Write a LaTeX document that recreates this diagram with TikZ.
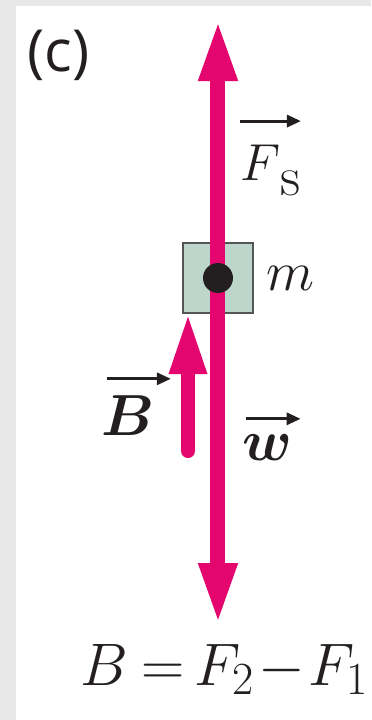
\RequirePackage{fix-cm}
\documentclass[tikz,border=0pt]{standalone}
\usepackage{amsmath,amssymb}
\usepackage{fontspec}
\newfontfamily\panelfont{Open Sans}
\usetikzlibrary{arrows.meta,positioning}
\definecolor{forcepink}{HTML}{E4066E}
\definecolor{blockgreen}{HTML}{BCD6CB}
\definecolor{blockedge}{HTML}{555555}
\definecolor{inkblack}{HTML}{231F20}
\definecolor{panelgray}{HTML}{E8E8E8}

\begin{document}
\begin{tikzpicture}[
x=0.5pt,y=-0.5pt,
force/.style={draw=forcepink,line width=7.5pt,
-{Triangle[length=31pt,width=17.5pt]}},
vecarr/.style={draw=inkblack,line width=1.5pt,
-{Triangle[length=7pt,width=6pt]}},
blockbox/.style={draw=blockedge,fill=blockgreen,line width=1pt,
minimum size=35pt,inner sep=0pt},
cmdot/.style={circle,fill=inkblack,minimum size=15pt,inner sep=0pt},
lbl/.style={inner sep=0pt,text=inkblack,anchor=base west}
]
\fill[panelgray] (0,0) rectangle (371,720);
\fill[white] (16,6) rectangle (371,720);
\useasboundingbox (0,0) rectangle (371,720);

\node[blockbox] (box) at (218,278) {};
\coordinate (FsTip) at (218,19);
\coordinate (wTip) at (218,625);
\coordinate (BTail) at (188,451);
\coordinate (BTip) at (188,312);

\draw[force] (box.center) -- (FsTip);
\draw[force] (box.center) -- (wTip);
\draw[force,line width=7pt,line cap=round,
-{Triangle[length=31pt,width=17pt]}] (BTail) -- (BTip);
\node[cmdot] (cm) at (box.center) {};

\node[lbl,font={\panelfont\fontsize{29}{34}\selectfont}] (panel) at (27,71) {(c)};
\node[lbl,font={\fontsize{26}{30}\selectfont}] (lblFs) at (240,180) {$F$\raisebox{-7.5pt}{\fontsize{28}{30}\selectfont s}};
\node[lbl,font={\fontsize{28}{32}\selectfont}] (lblm) at (266,290) {$m$};
\node[lbl,font={\fontsize{29}{34}\selectfont}] (lblB) at (101,435) {$\boldsymbol{B}$};
\node[lbl,font={\fontsize{29}{34}\selectfont}] (lblw) at (242,460) {$\boldsymbol{w}$};
\node[lbl,font={\fontsize{30}{34}\selectfont}] (law) at (80,685)
{$B\mskip4mu{=}\mskip3mu F_{\mbox{\fontsize{23}{24}\selectfont 2}}\mskip1mu{-}\mskip1mu F_{\mbox{\fontsize{23}{24}\selectfont 1}}$};

\draw[vecarr] ([yshift=11.5pt]lblFs.north west) -- ([yshift=11.5pt]lblFs.north east);
\draw[vecarr] ([xshift=3pt,yshift=8pt]lblB.north west) -- ([xshift=8pt,yshift=8pt]lblB.north east);
\draw[vecarr] ([xshift=2pt,yshift=7.5pt]lblw.north west) -- ([xshift=4pt,yshift=7.5pt]lblw.north east);
\end{tikzpicture}
\end{document}
